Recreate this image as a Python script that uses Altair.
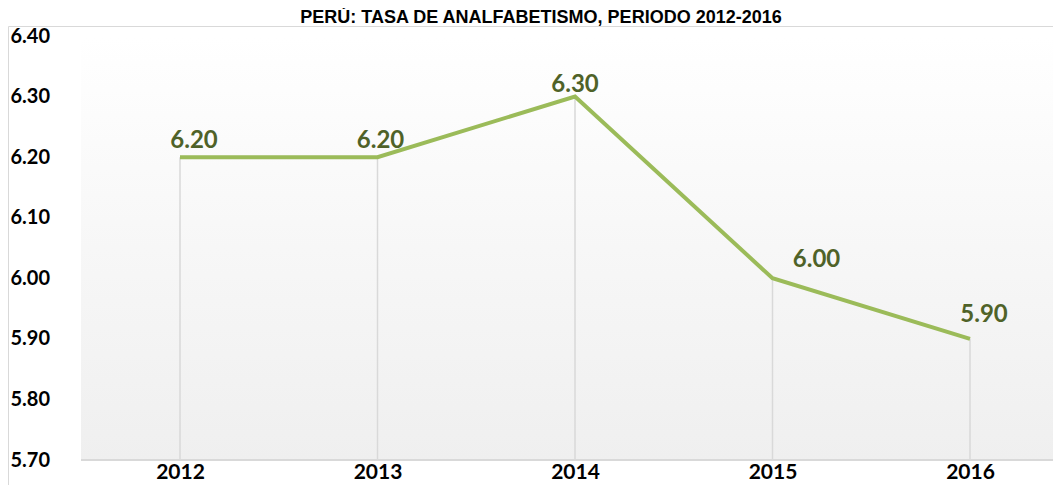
import altair as alt
import pandas as pd

# ---- data ----
years = ["2012", "2013", "2014", "2015", "2016"]
rates = [6.20, 6.20, 6.30, 6.00, 5.90]
y_ticks = [5.70, 5.80, 5.90, 6.00, 6.10, 6.20, 6.30, 6.40]
title_text = "PERÚ: TASA DE ANALFABETISMO, PERIODO 2012-2016"
y_min = 5.70
y_max = 6.40

# ---- style ----
PAD_L = 73
PAD_T = 28
W = 972
H = 424
LINE_COLOR = "#9BBB59"
LABEL_COLOR = "#4F6228"
GRID_GRAY = "#D9D9D9"
label_offsets = {
    "2012": (14, -9),
    "2013": (3, -9),
    "2014": (0, -5),
    "2015": (44, -11),
    "2016": (14, -17),
}

df = pd.DataFrame({"year": years, "rate": rates})
one_row = alt.Data(values=[{"k": 1}])

xenc = alt.X(
    "year:N",
    sort=years,
    scale=alt.Scale(type="point", range=[99, 889], padding=0),
    axis=alt.Axis(
        title=None, domain=False, ticks=False, tickSize=0, grid=False,
        labelFont="Lato", labelFontWeight="bold", labelFontSize=21,
        labelColor="#000000", labelPadding=18, labelBaseline="alphabetic",
        labelAngle=0,
    ),
)
yenc = alt.Y(
    "rate:Q",
    scale=alt.Scale(domain=[y_min, y_max], nice=False, zero=False),
    axis=alt.Axis(
        title=None, values=y_ticks, format=".2f", domain=False, ticks=False,
        tickSize=0, grid=False, labelAlign="left", labelBaseline="middle",
        labelPadding=71, labelFont="Lato", labelFontWeight="bold",
        labelFontSize=20, labelColor="#000000",
    ),
)

gradient = alt.LinearGradient(
    gradient="linear",
    stops=[alt.GradientStop(color="#FFFFFF", offset=0),
           alt.GradientStop(color="#EFEFEF", offset=1)],
    x1=0, x2=0, y1=0, y2=1,
)

bg = alt.Chart(one_row).mark_rect(color=gradient).encode(
    x=alt.value(0), x2=alt.value(W), y=alt.value(0), y2=alt.value(H)
)

drops = alt.Chart(df).mark_rule(color=GRID_GRAY, strokeWidth=1.5).encode(
    x=xenc, y=yenc, y2=alt.datum(y_min)
)

base_line = alt.Chart(one_row).mark_rule(color=GRID_GRAY, strokeWidth=2).encode(
    x=alt.value(0), x2=alt.value(W), y=alt.datum(y_min)
)

line = alt.Chart(df).mark_line(color=LINE_COLOR, strokeWidth=4).encode(
    x=xenc, y=yenc
)

text_layers = []
for yr in years:
    dx, dy = label_offsets[yr]
    t = (
        alt.Chart(df)
        .transform_filter(alt.datum.year == yr)
        .mark_text(
            align="center", baseline="alphabetic", dx=dx, dy=dy,
            font="Lato", fontWeight="bold", fontSize=24, color=LABEL_COLOR,
        )
        .encode(x=xenc, y=yenc, text=alt.Text("rate:Q", format=".2f"))
    )
    text_layers.append(t)

border = alt.Chart(one_row).mark_rect(
    fillOpacity=0, stroke=GRID_GRAY, strokeWidth=1
).encode(
    x=alt.value(-PAD_L + 0.5), x2=alt.value(W + 50),
    y=alt.value(-9.5), y2=alt.value(H + 100),
)

chart = (
    alt.layer(bg, drops, base_line, line, *text_layers, border)
    .properties(
        width=W,
        height=H,
        autosize=alt.AutoSizeParams(type="none"),
        padding={"left": PAD_L, "top": PAD_T, "right": 0, "bottom": 25},
        title=alt.Title(
            title_text, font="Liberation Sans", fontSize=18, fontWeight="bold",
            color="#000000", anchor="middle", offset=1, baseline="alphabetic",
            dx=-26, dy=16,
        ),
        background="#FFFFFF",
    )
    .configure_view(stroke=None)
)

chart.save("out.html", embed_options={"renderer": "svg", "actions": False})
